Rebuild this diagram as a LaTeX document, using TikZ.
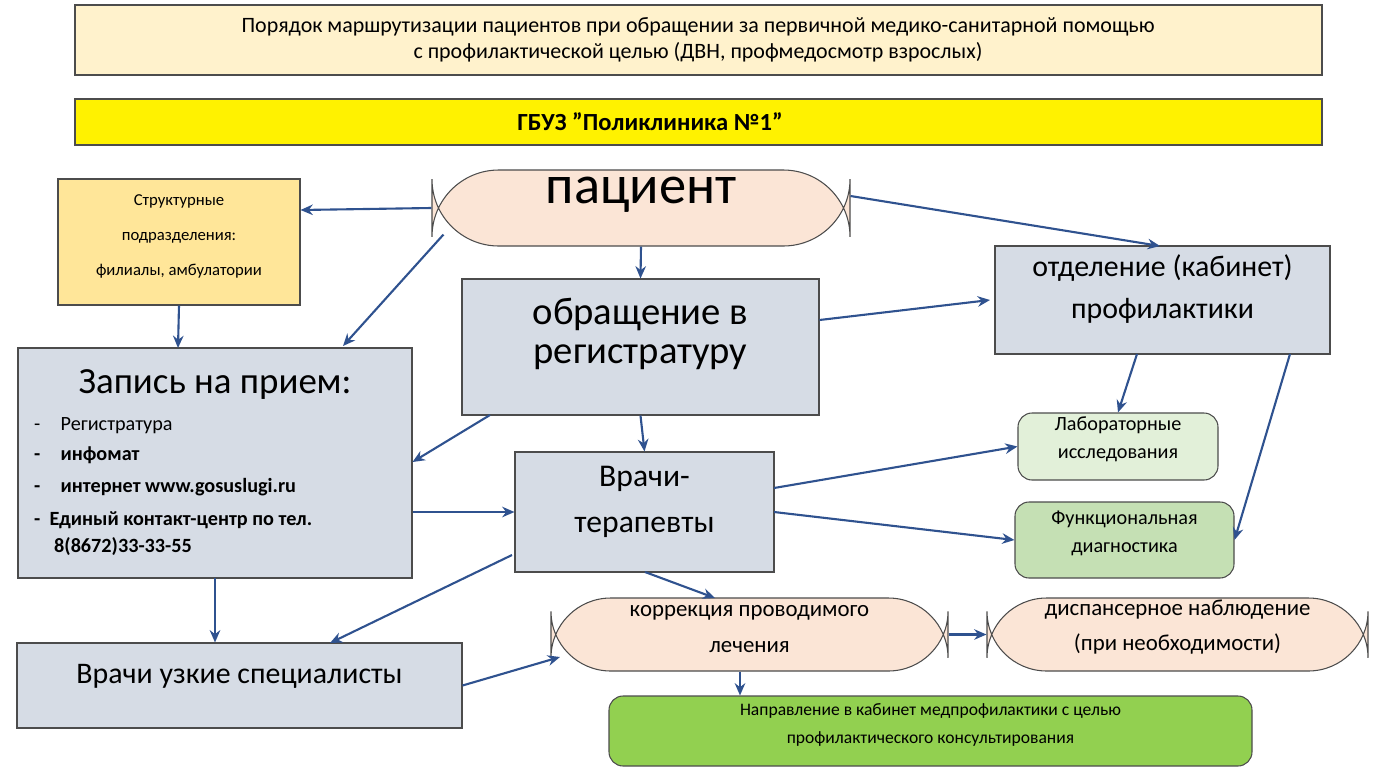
\documentclass[tikz,border=0pt]{standalone}
\usepackage{fontspec}
\setmainfont{Carlito}
\usetikzlibrary{fit,arrows.meta}

\definecolor{peach}{HTML}{FFF2CC}
\definecolor{gold}{HTML}{FFE699}
\definecolor{rose}{HTML}{FBE5D6}
\definecolor{slate}{HTML}{D6DCE5}
\definecolor{mint}{HTML}{E2F0D9}
\definecolor{sage}{HTML}{C5E0B4}
\definecolor{lime}{HTML}{92D050}
\definecolor{arrowblue}{HTML}{2F528F}

\tikzset{
  box/.style={draw=black!70, line width=0.6pt, inner sep=0pt, align=center},
  pill/.style={box, rounded corners=18pt},
  link/.style={draw=arrowblue, line width=1.2pt, -{Stealth[length=7pt,width=6pt]}}
}

\begin{document}
\begin{tikzpicture}[x=0.02cm, y=-0.02cm]

\useasboundingbox (0,0) rectangle (1373,768);

% Header
\node[box, fill=peach, fit={(75,5)(1322,75)}] (title) {};
\node[font=\fontsize{12.5}{15}\selectfont, align=center] (titletext) at (698,40)
  {Порядок маршрутизации пациентов при обращении за первичной медико-санитарной помощью\\
   с профилактической целью (ДВН, профмедосмотр взрослых)};
\node[box, fill=yellow, fit={(75,99)(1322,145)}] (clinic) {};
\node[font=\fontsize{14}{16}\selectfont\bfseries] (clinictext) at (650,122) {ГБУЗ "Поликлиника №1"};

% Boxes
\node[box, fill=gold, fit={(58,179)(300,305)}, font=\fontsize{9.5}{20}\selectfont] (branch)
  {Структурные\\подразделения:\\филиалы, амбулатории};
\node[pill, rounded corners=38pt, fill=rose, fit={(432,170)(850,246)}, font=\fontsize{31}{34}\selectfont] (patient) {пациент};
\node[box, fill=slate, fit={(462,279)(819,415)}, font=\fontsize{22}{22}\selectfont] (reg) {обращение в\\регистратуру};
\node[box, fill=slate, fit={(995,246)(1330,354)}, font=\fontsize{17}{24}\selectfont] (prof) {отделение (кабинет)\\профилактики};
\node[box, fill=slate, fit={(18,348)(412,578)}] (record) {};
\node[font=\fontsize{21}{24}\selectfont] (recordhead) at (215,385) {Запись на прием:};
\node[font=\fontsize{11.5}{14}\selectfont, anchor=west] (item1) at (28,426) {-\quad Регистратура};
\node[font=\fontsize{11.5}{14}\selectfont\bfseries, anchor=west] (item2) at (28,455) {-\quad инфомат};
\node[font=\fontsize{11.5}{14}\selectfont\bfseries, anchor=west] (item3) at (28,487) {-\quad интернет www.gosuslugi.ru};
\node[font=\fontsize{11.5}{14}\selectfont\bfseries, anchor=west] (item4) at (28,520) {-\ \ Единый контакт-центр по тел.};
\node[font=\fontsize{11.5}{14}\selectfont\bfseries, anchor=west] (item5) at (48,547) {8(8672)33-33-55};
\node[box, fill=slate, fit={(515,452)(774,572)}, font=\fontsize{18}{26}\selectfont] (doctors) {Врачи-\\терапевты};
\node[box, fill=mint, rounded corners=8pt, fit={(1018,413)(1218,480)}, font=\fontsize{11.5}{16}\selectfont] (lab) {Лабораторные\\исследования};
\node[box, fill=sage, rounded corners=8pt, fit={(1015,502)(1234,578)}, font=\fontsize{11.5}{16}\selectfont] (func) {Функциональная\\диагностика};
\node[pill, rounded corners=34pt, fill=rose, fit={(551,598)(948,671)}, font=\fontsize{13}{20}\selectfont] (correct) {коррекция проводимого\\лечения};
\node[pill, rounded corners=34pt, fill=rose, fit={(987,598)(1368,671)}, font=\fontsize{13}{20}\selectfont] (disp) {диспансерное наблюдение\\(при необходимости)};
\node[box, fill=slate, fit={(17,643)(462,728)}, font=\fontsize{17}{20}\selectfont] (special) {Врачи узкие специалисты};
\node[box, fill=lime, rounded corners=8pt, fit={(609,696)(1252,766)}, font=\fontsize{10}{16}\selectfont] (cabinet)
  {Направление в кабинет медпрофилактики с целью\\профилактического консультирования};

% Connectors
\draw[link] (patient.west) -- (branch.east |- 0,210);
\draw[link] (patient.south west) ++(12,-12) -- (343,346);
\draw[link] (patient.south) -- (reg.north);
\draw[link] (patient.east) ++(0,-12) -- (1160,246);
\draw[link] (branch.south) -- (178,348);
\draw[link] (reg.east) ++(0,-27) -- (990,300);
\draw[link] (490,415) -- (record.east |- 0,462);
\draw[link] (reg.south) -- (doctors.north);
\draw[link] (1137,354) -- (lab.north);
\draw[link] (1290,354) -- (func.east);
\draw[link] (774,488) -- (lab.west);
\draw[link] (774,512) -- (func.west);
\draw[link] (record.east |- 0,512) -- (doctors.west |- 0,512);
\draw[link] (512,555) -- (330,643);
\draw[link] (215,578) -- (special.north -| 215,0);
\draw[link] (645,572) -- (715,598);
\draw[link] (special.east) -- (560,657);
\draw[link] (correct.east) -- (disp.west);
\draw[link] (correct.south -| 740,0) -- (cabinet.north -| 740,0);

\end{tikzpicture}
\end{document}
